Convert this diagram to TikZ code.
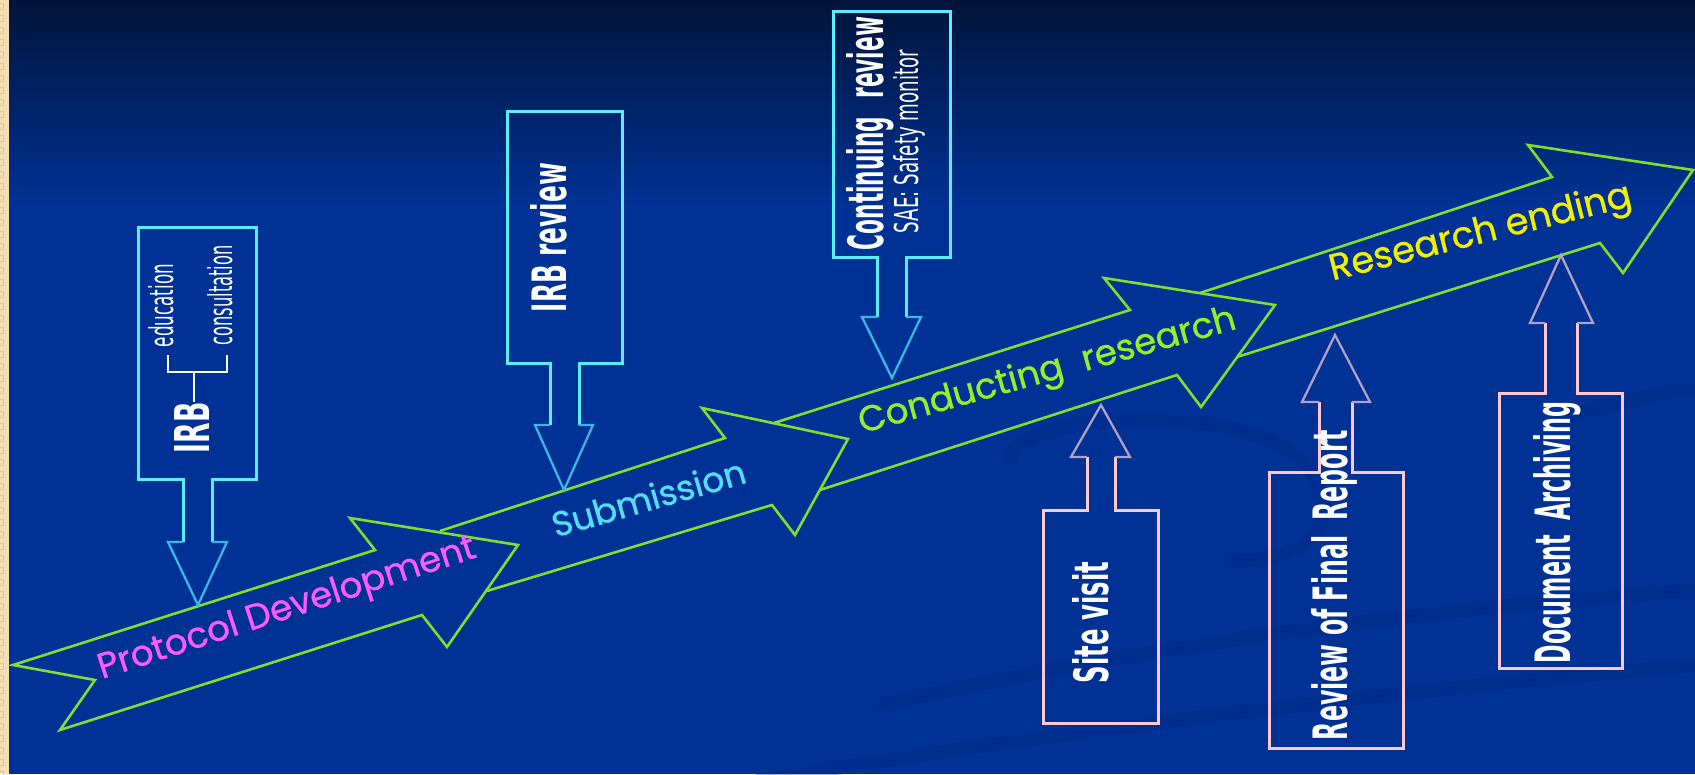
\documentclass[tikz,border=0pt]{standalone}
\usepackage{fontspec}
\setmainfont{DejaVu Sans}
\newfontfamily\bandfont{Poppins}[FakeBold=0.8]
\begin{document}
\begin{tikzpicture}[x=1pt,y=-1pt,line join=miter]
\definecolor{bgblue}{RGB}{0,50,150}
\definecolor{bgtop}{RGB}{0,20,58}
\definecolor{swirlc}{RGB}{0,40,128}
\definecolor{beige}{RGB}{244,222,178}
\definecolor{beigedk}{RGB}{222,196,150}
\definecolor{bandgreen}{RGB}{128,222,48}
\definecolor{cyanbox}{RGB}{90,236,255}
\definecolor{cyanhead}{RGB}{62,182,228}
\definecolor{pinkbox}{RGB}{255,200,208}
\definecolor{pinkhead}{RGB}{178,160,200}
\definecolor{magtext}{RGB}{255,90,255}
\definecolor{subtext}{RGB}{85,222,255}
\definecolor{context}{RGB}{150,240,40}
\definecolor{endtext}{RGB}{240,240,0}
\tikzset{
  band/.style={draw=bandgreen,line width=2.6pt},
  dbox/.style={draw=cyanbox,line width=3pt},
  dhead/.style={draw=cyanhead,line width=2.3pt},
  ubox/.style={draw=pinkbox,line width=3pt},
  uhead/.style={draw=pinkhead,line width=2.3pt},
  vtext/.style={rotate=90,anchor=base,inner sep=0pt,text=white},
  btext/.style={anchor=base,inner sep=0pt},
  swirl/.style={draw=swirlc,line width=14pt,opacity=0.35,line cap=round}
}
\useasboundingbox (0,0) rectangle (1695,774);
% background
\fill[bgblue] (0,0) rectangle (1695,774);
\shade[top color=bgtop,bottom color=bgblue] (0,0) rectangle (1695,210);
% faint swirls
\draw[swirl] (880,705) .. controls (1150,645) and (1450,605) .. (1700,590);
\draw[swirl] (760,780) .. controls (1100,725) and (1450,685) .. (1700,665);
\draw[swirl] (1010,458) .. controls (1020,410) and (1260,400) .. (1310,470) .. controls (1350,530) and (1290,565) .. (1230,560);
\draw[swirl] (1560,420) .. controls (1620,400) and (1680,390) .. (1700,388);
% left strip
\fill[beige] (0,0) rectangle (9,774);
\foreach \k in {0,...,64}{\draw[beigedk,line width=0.8pt] (-1,12*\k+3) rectangle (3,12*\k+9);}

% big band arrows
\draw[band] (13,665) -- (375,550) -- (350,518) -- (518,545) -- (447,647) -- (422,615) -- (60,730) -- (95,680) -- cycle;
\draw[band] (440,531) -- (725,438) -- (702,408) -- (848,439) -- (795,535) -- (772,505) -- (487,591);
\draw[band] (774,423) -- (1130,310) -- (1104,278) -- (1275,305) -- (1201,407) -- (1177,375) -- (820,490);
\draw[band] (1200,293) -- (1552,177) -- (1528,145) -- (1693,170) -- (1623,273) -- (1600,243) -- (1237,357);

% down arrows (cyan boxes)
\foreach \l/\t/\r/\b/\sl/\sr/\sh/\hl/\hr/\tx/\ty in {
  138/227/256/479/183/212/542/168/227/198/605,
  507/111/622/363/550/579/425/535/593/564/490,
  833/11/950/257/877/906/317/862/921/892/378}{
  \draw[dbox] (\sl,\sh) -- (\sl,\b) -- (\l,\b) -- (\l,\t) -- (\r,\t) -- (\r,\b) -- (\sr,\b) -- (\sr,\sh);
  \draw[dhead] (\sl,\sh) -- (\hl,\sh) -- (\tx,\ty) -- (\hr,\sh) -- (\sr,\sh);
}
% up arrows (pink boxes)
\foreach \l/\t/\r/\b/\sl/\sr/\sh/\hl/\hr/\tx/\ty in {
  1043/510/1158/723/1087/1115/457/1071/1130/1101/405,
  1269/472/1403/748/1319/1352/402/1302/1370/1335/335,
  1499/393/1622/668/1545/1577/323/1530/1593/1561/255}{
  \draw[ubox] (\sl,\sh) -- (\sl,\t) -- (\l,\t) -- (\l,\b) -- (\r,\b) -- (\r,\t) -- (\sr,\t) -- (\sr,\sh);
  \draw[uhead] (\sl,\sh) -- (\hl,\sh) -- (\tx,\ty) -- (\hr,\sh) -- (\sr,\sh);
}

% IRB bracket
\draw[white,line width=2.5pt] (194,402) -- (194,372);
\draw[white,line width=2.5pt] (168,355) -- (168,372) -- (227,372) -- (227,355);

% box texts
\node[vtext] (irb) at (209,427.5) {\resizebox{51pt}{35pt}{\bfseries IRB}};
\node[vtext] (edu) at (173,305.5) {\resizebox{83pt}{25pt}{education}};
\node[vtext] (cons) at (232,295.5) {\resizebox{100pt}{25pt}{consultation}};
\node[vtext] (irbrev) at (566,237.5) {\resizebox{149pt}{36pt}{\bfseries IRB review}};
\node[vtext] (contrev) at (883,133.5) {\resizebox{233pt}{37pt}{\bfseries Continuing\hspace{0.5em} review}};
\node[vtext] (sae) at (918,141.5) {\resizebox{183pt}{25pt}{SAE: Safety monitor}};
\node[vtext] (site) at (1108,622.5) {\resizebox{121pt}{36pt}{\bfseries Site visit}};
\node[vtext] (report) at (1347,585) {\resizebox{310pt}{36pt}{\bfseries Review of Final\hspace{0.3em} Report}};
\node[vtext] (archive) at (1570,532.5) {\resizebox{261pt}{37pt}{\bfseries Document\hspace{0.3em} Archiving}};

% band texts
\node[btext,rotate=18,text=magtext] (protocol) at (290,618) {\resizebox{395pt}{!}{\bandfont Protocol Development}};
\node[btext,rotate=16,text=subtext] (submission) at (652,510) {\resizebox{200pt}{!}{\bandfont Submission}};
\node[btext,rotate=15.6,text=context] (conducting) at (1050,381) {\resizebox{390pt}{!}{\bandfont Conducting\hspace{0.3em} research}};
\node[btext,rotate=14,text=endtext] (ending) at (1483,243) {\resizebox{310pt}{!}{\bandfont Research ending}};
\end{tikzpicture}
\end{document}
